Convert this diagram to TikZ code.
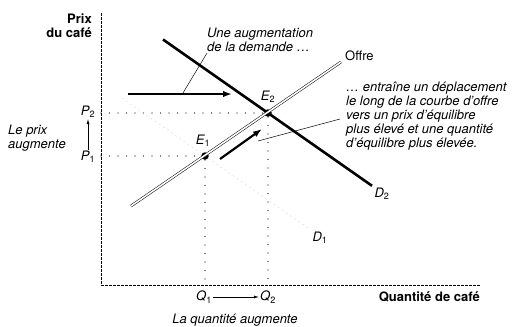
\documentclass[tikz,border=0pt]{standalone}
\usepackage{fontspec}
\setmainfont{TeX Gyre Heros}
\usetikzlibrary{arrows.meta}
\tikzset{
  txt/.style={font=\fontsize{13}{14}\selectfont, inner sep=1pt},
  ittxt/.style={txt, font=\fontsize{13}{14}\selectfont\itshape},
  bftxt/.style={txt, font=\fontsize{13}{14}\selectfont\bfseries},
  axis/.style={line width=0.9pt, dash pattern=on 3pt off 1pt},
  guide/.style={line width=1.1pt, line cap=round, dash pattern=on 0pt off 8.5pt},
  eqpt/.style={circle, fill=black, inner sep=0pt, minimum size=7.5pt},
  bigarrow/.style={line width=2.2pt, -{Latex[length=9pt,width=6.5pt]}},
  smallarrow/.style={line width=0.6pt, -{Latex[length=5pt,width=3pt]}}
}
\begin{document}
\begin{tikzpicture}[x=1pt,y=-1pt]
  \useasboundingbox (0,0) rectangle (515,327);
  \coordinate (O) at (101,285);
  \coordinate (ytop) at (101,13);
  \coordinate (xend) at (480,285);
  \draw[axis] (ytop) -- (O) -- (xend);
  \node[bftxt, anchor=east, align=right] (ylab) at (93,26) {Prix\\du café};
  \node[bftxt, anchor=east] (xlab) at (481,297) {Quantité de café};
  \node[eqpt] (E1) at (205,156) {};
  \node[eqpt] (E2) at (268,113) {};
  \node[ittxt] (E1l) at (203,141) {E\textsubscript{\upshape 1}};
  \node[ittxt] (E2l) at (268,97) {E\textsubscript{\upshape 2}};
  \draw[guide] (O |- E1) -- (E1) -- (O -| E1);
  \draw[guide] (O |- E2) -- (E2) -- (O -| E2);
  \coordinate (d1a) at (122,98);
  \coordinate (d1b) at (308,228);
  \draw[black!13, line width=0.5pt, dash pattern=on 2pt off 3pt] (d1a) -- (d1b);
  \coordinate (d2a) at (163,39.5);
  \coordinate (d2b) at (372,185.8);
  \draw[line width=2.6pt] (d2a) -- (d2b);
  \coordinate (s1) at (131,206);
  \coordinate (s2) at (341,62);
  \draw[line width=0.5pt, double=white, double distance=1.6pt] (s1) -- (s2);
  \node[ittxt] (D1) at (320,238) {D\textsubscript{\upshape 1}};
  \node[ittxt] (D2) at (382,194) {D\textsubscript{\upshape 2}};
  \node[txt, anchor=west] (offre) at (344,56) {Offre};
  \node[ittxt, anchor=west, align=left] (dem) at (206,40) {Une augmentation\\de la demande …};
  \node[ittxt, anchor=west, align=left] (move) at (345,116)
    {… entraîne un déplacement\\le long de la courbe d'offre\\vers un prix d'équilibre\\plus élevé et une quantité\\d'équilibre plus élevée.};
  \coordinate (sh1) at (128,94);
  \coordinate (sh2) at (232,94);
  \draw[bigarrow] (sh1) -- (sh2);
  \coordinate (mv1) at (220,159);
  \coordinate (mv2) at (262,129);
  \draw[bigarrow] (mv1) -- (mv2);
  \coordinate (c1) at (183,93);
  \coordinate (c2) at (207,53);
  \draw[line width=0.5pt] (c1) -- (c2);
  \coordinate (c3) at (258,141);
  \coordinate (c4) at (340,119);
  \draw[line width=0.5pt] (c3) -- (c4);
  \node[ittxt] (P2) at (88,112) {P\textsubscript{\upshape 2}};
  \node[ittxt] (P1) at (88,157) {P\textsubscript{\upshape 1}};
  \draw[smallarrow] (P1) -- (P2);
  \node[ittxt, anchor=west, align=left] (prix) at (7,138) {Le prix\\augmente};
  \node[ittxt] (Q1) at (204,297) {Q\textsubscript{\upshape 1}};
  \node[ittxt] (Q2) at (268,297) {Q\textsubscript{\upshape 2}};
  \draw[smallarrow] (Q1) -- (Q2);
  \node[ittxt] (qlab) at (235,320) {La quantité augmente};
\end{tikzpicture}
\end{document}
